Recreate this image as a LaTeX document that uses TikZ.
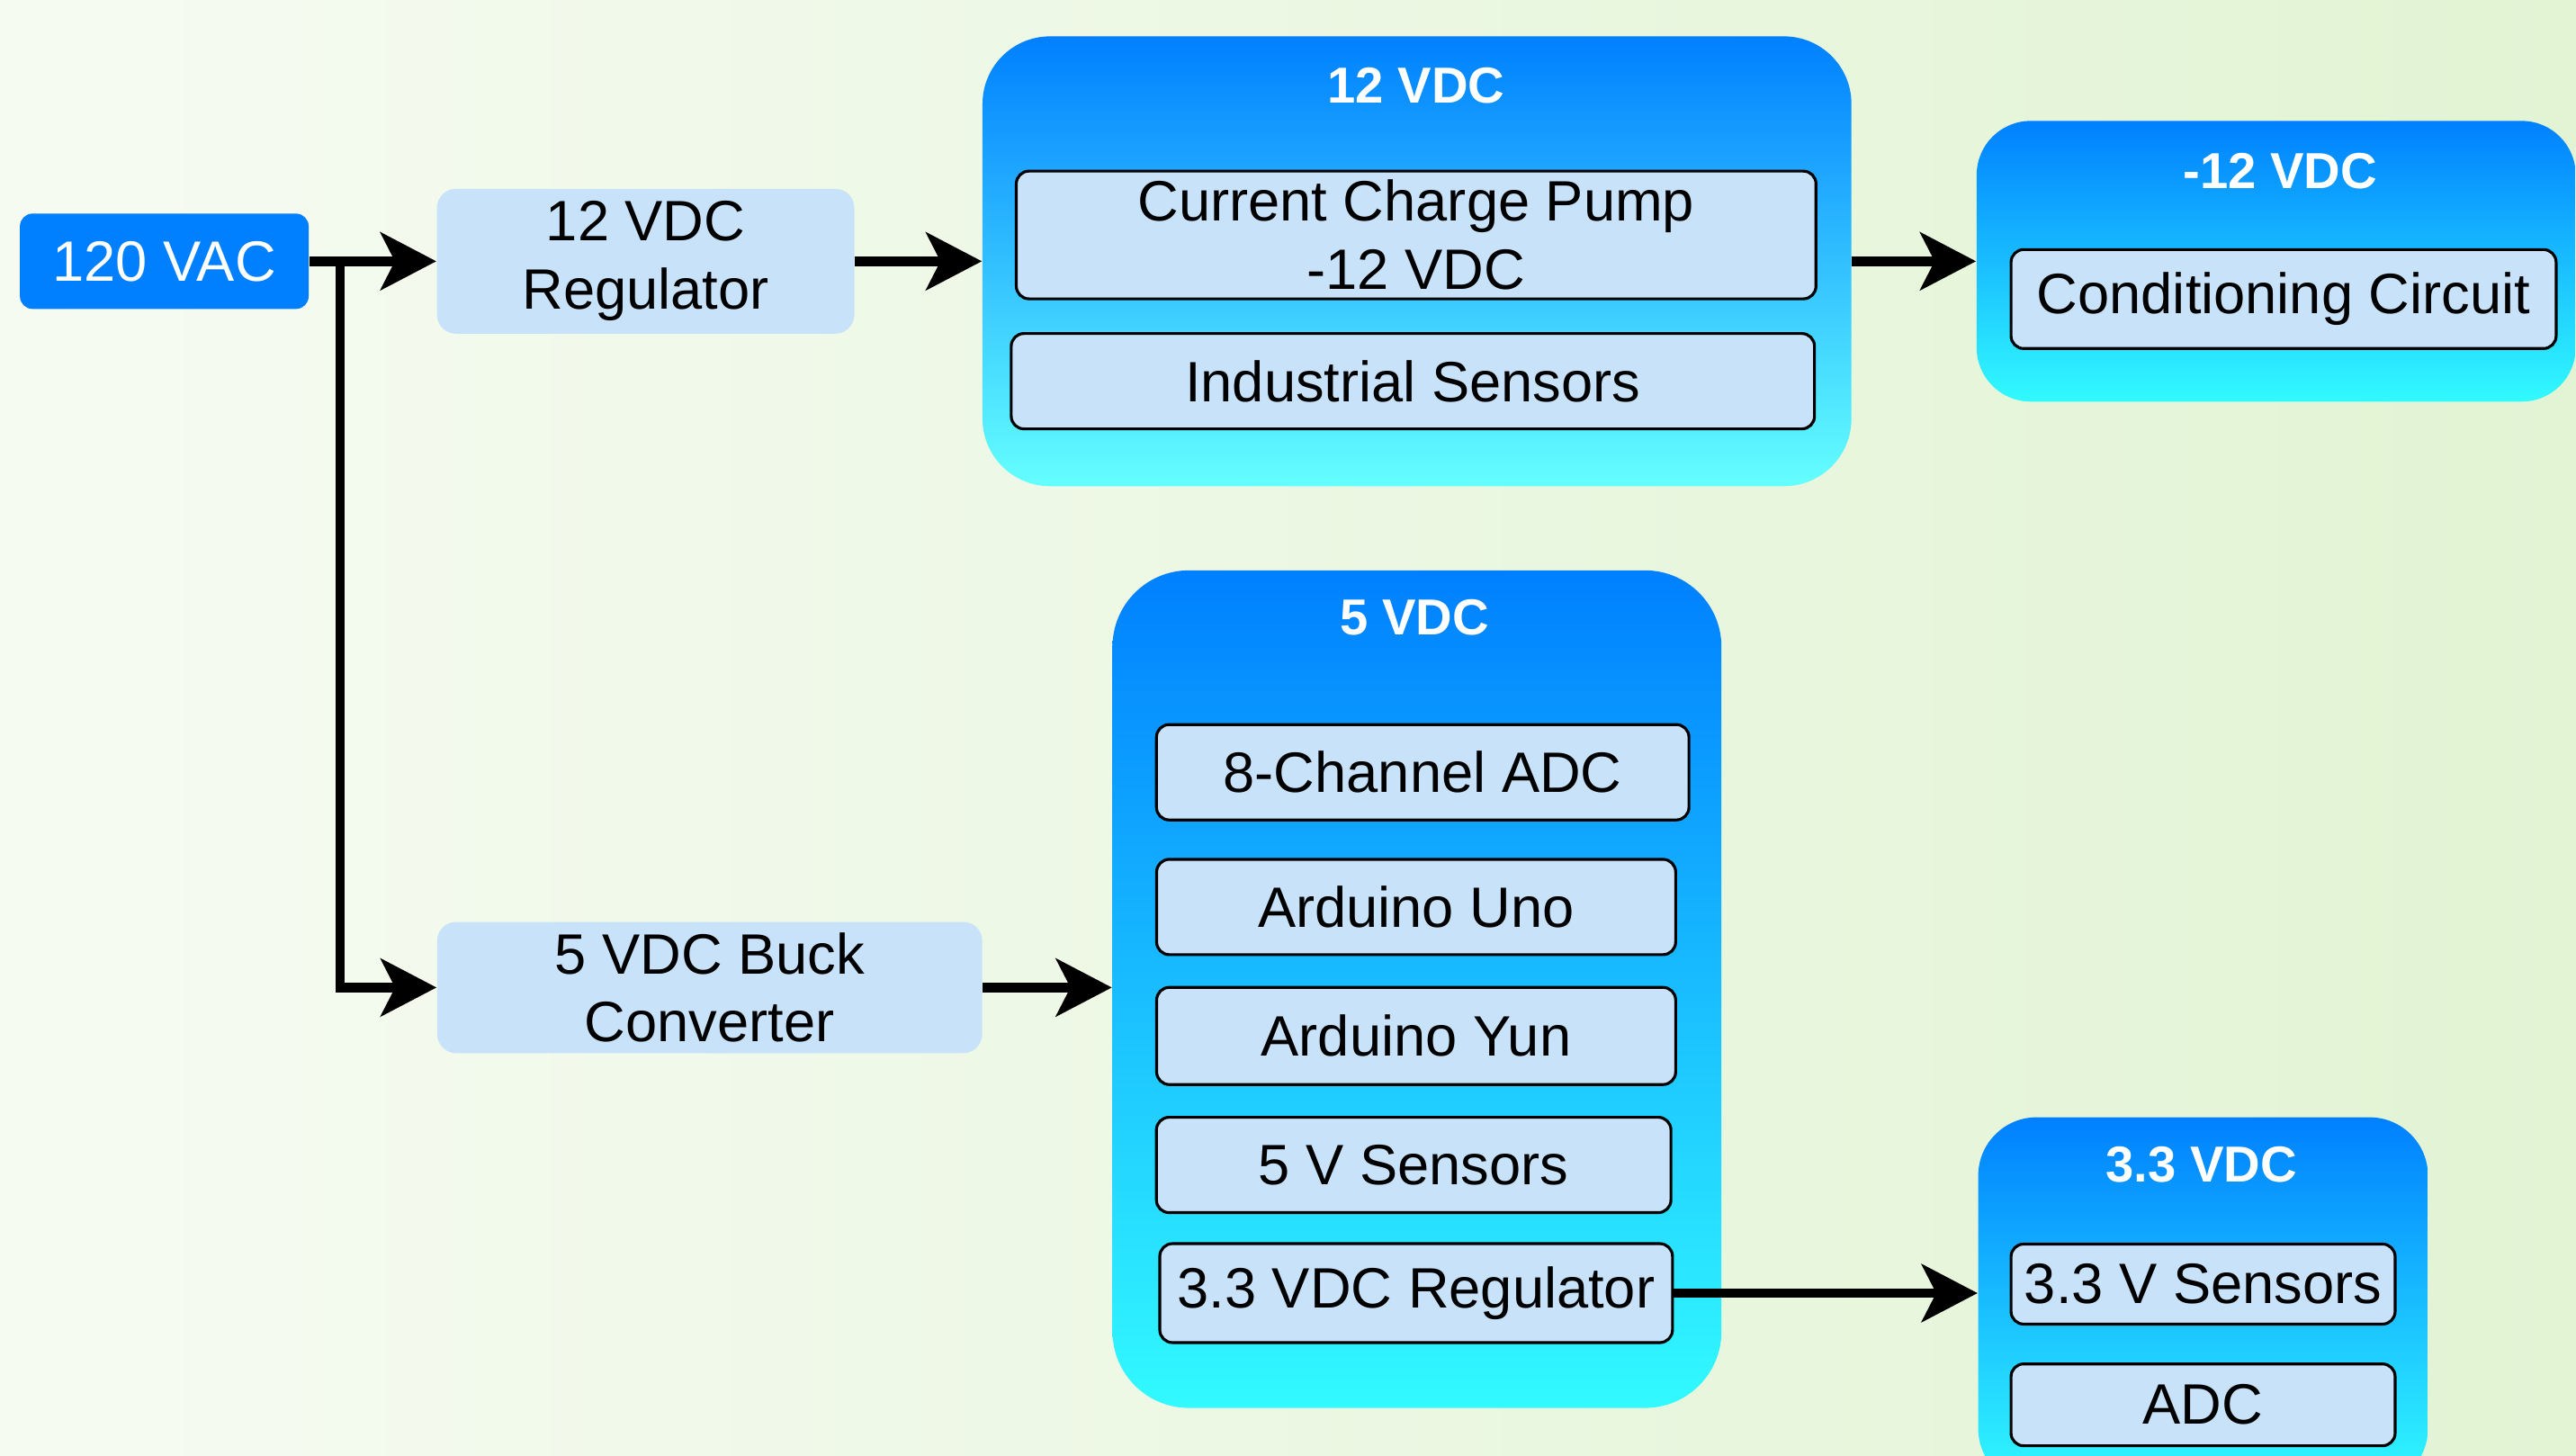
\documentclass[tikz,border=0pt]{standalone}
\usepackage{fontspec}
\setmainfont{Liberation Sans}
\usepackage{tikz}
\usetikzlibrary{arrows.meta}
\usetikzlibrary{positioning}
\definecolor{acblue}{RGB}{0,128,255}
\definecolor{railcyan}{RGB}{50,250,255}
\definecolor{railpale}{RGB}{100,255,255}
\definecolor{partblue}{RGB}{200,226,250}
\definecolor{bgleft}{RGB}{246,251,242}
\definecolor{bgright}{RGB}{226,244,212}
\tikzset{source/.style={rectangle,rounded corners=4pt,fill=acblue,text=white,font=\fontsize{18}{21.6}\selectfont}}
\tikzset{stage/.style={rectangle,rounded corners=6pt,fill=partblue,align=center,font=\fontsize{18}{21.6}\selectfont}}
\tikzset{rail/.style={rectangle,top color=acblue,bottom color=railcyan,inner sep=0pt}}
\tikzset{railname/.style={text=white,font=\fontsize{16}{19}\selectfont\bfseries}}
\tikzset{part/.style={rectangle,rounded corners=4pt,draw=black,line width=0.9pt,fill=partblue,align=center,inner sep=0pt,font=\fontsize{18}{21.6}\selectfont}}
\tikzset{feed/.style={line width=3pt,-{Stealth[length=0.62cm,width=0.64cm,inset=0.16cm]}}}

\begin{document}
\begin{tikzpicture}[x=0.01826cm,y=-0.01826cm]
    \useasboundingbox (0,0) rectangle (1568,886);
    \clip (0,0) rectangle (1568,886);
    \fill[left color=bgleft,right color=bgright] (0,0) rectangle (1568,886);
    % supply side
    \node[source, minimum width=3.21cm, minimum height=1.06cm] (vac) at (100,159) {120 VAC};
    \node[stage, minimum width=4.64cm, minimum height=1.61cm] (reg12) at (393,159) {12 VDC\\Regulator};
    \node[stage, minimum width=6.06cm, minimum height=1.42cm] (buck) at (432,601) {5 VDC Buck\\Converter};
    \coordinate (tap) at (207,159);
    % 12 VDC rail
    \node[rail, bottom color=railpale, rounded corners=0.75cm, minimum width=9.66cm, minimum height=5.0cm] (g12) at (862.5,159) {};
    \node[railname] (t12) at (862,52) {12 VDC};
    \node[part, minimum width=8.89cm, minimum height=1.42cm] (pump) at (862,143) {Current Charge Pump\\-12 VDC};
    \node[part, minimum width=8.93cm, minimum height=1.06cm] (indus) at (860,232) {Industrial Sensors};
    % -12 VDC rail
    \node[rail, rounded corners=0.6cm, minimum width=6.66cm, minimum height=3.12cm] (gm12) at (1385.5,159) {};
    \node[railname] (tm12) at (1388,104) {-12 VDC};
    \node[part, minimum width=6.06cm, minimum height=1.1cm] (cond) at (1390,182) {Conditioning Circuit};
    % 5 VDC rail
    \node[rail, rounded corners=0.85cm, minimum width=6.77cm, minimum height=9.31cm] (g5) at (862.5,602) {};
    \node[railname] (t5) at (861,376) {5 VDC};
    \node[part, minimum width=5.92cm, minimum height=1.06cm] (adc8) at (866,470) {8-Channel ADC};
    \node[part, minimum width=5.77cm, minimum height=1.06cm] (uno) at (862,552) {Arduino Uno};
    \node[part, minimum width=5.77cm, minimum height=1.08cm] (yun) at (862,630.5) {Arduino Yun};
    \node[part, minimum width=5.72cm, minimum height=1.06cm] (sens5) at (860.5,709) {5 V Sensors};
    \node[part, minimum width=5.70cm, minimum height=1.1cm] (reg33) at (862,787) {3.3 VDC Regulator};
    % 3.3 VDC rail
    \node[rail, rounded corners=0.65cm, minimum width=5.0cm, minimum height=4.11cm] (g33) at (1341,792.5) {};
    \node[railname] (t33) at (1340,709) {3.3 VDC};
    \node[part, minimum width=4.27cm, minimum height=0.89cm] (sens33) at (1341,781.5) {3.3 V Sensors};
    \node[part, minimum width=4.27cm, minimum height=0.91cm] (adc) at (1341,855) {ADC};
    % connections
    \draw[feed] (vac) -- (reg12);
    \draw[feed] (tap) |- (buck.west);
    \draw[feed] (reg12) -- (g12);
    \draw[feed] (g12) -- (gm12);
    \draw[feed] (buck) -- (buck -| g5.west);
    \draw[feed] (reg33) -- (reg33 -| g33.west);
\end{tikzpicture}
\end{document}
